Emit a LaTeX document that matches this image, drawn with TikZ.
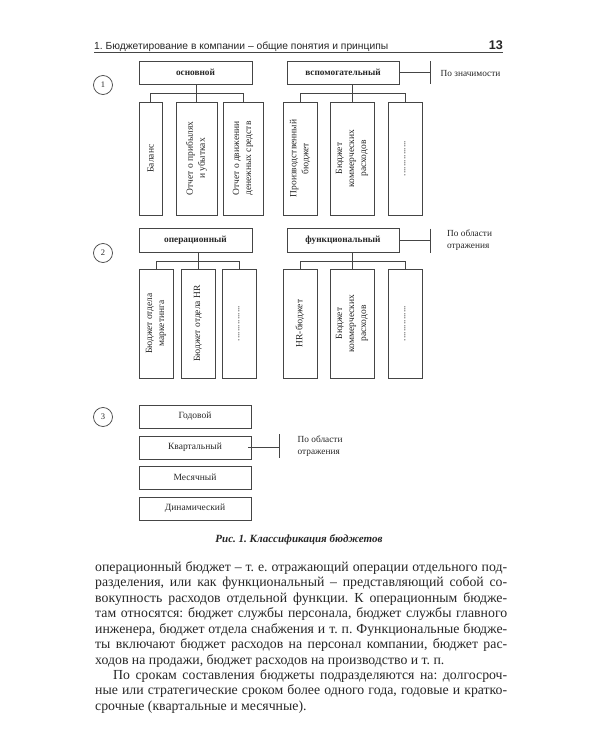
\documentclass[tikz,border=0pt]{standalone}
\usepackage{fontspec}
\usepackage{graphicx}
\setmainfont{Liberation Serif}
\newfontfamily\hdrfont{Liberation Sans}
\definecolor{ink}{HTML}{262626}
\definecolor{lnc}{HTML}{454545}
\newcommand\bodyline[2][412pt]{\hbox to #1{#2}}
\frenchspacing
\begin{document}
\begin{tikzpicture}[x=1pt,y=-1pt,
  every node/.style={text=ink, inner sep=0pt},
  cn/.style={draw=lnc, line width=0.75pt},
  hbox/.style={cn, minimum width=113pt, minimum height=23pt, font=\bfseries\fontsize{9.3}{11}\selectfont},
  cbox/.style n args={2}{cn, minimum width=#1, minimum height=#2},
  pbox/.style={cn, minimum width=112pt, minimum height=23pt, font=\fontsize{9.5}{11}\selectfont},
  vtxt/.style={rotate=90, align=center, font=\fontsize{9.5}{12}\selectfont},
  sidetxt/.style={anchor=west, align=left, font=\fontsize{9.3}{11.7}\selectfont},
  num/.style={cn, circle, minimum size=19pt, font=\fontsize{8.5}{10}\selectfont},
  body/.style={anchor=base west, font=\frenchspacing\fontsize{13.8}{15}\selectfont},
  rule/.style={draw=lnc, line width=0.6pt}
]
\useasboundingbox (0,0) rectangle (600,750);

% header
\node[anchor=base west, font=\hdrfont\fontsize{10}{12}\selectfont] (hdr) at (94,49.5)
  {\resizebox{294pt}{!}{1. Бюджетирование в компании – общие понятия и принципы}};
\node[anchor=base east, font=\hdrfont\bfseries\fontsize{12}{14}\selectfont] (pg) at (503,49.5)
  {\resizebox{14pt}{!}{13}};
\coordinate (ulA) at (94,52.5);
\coordinate (ulB) at (503,52.5);
\draw[rule] (ulA) -- (ulB);

% ---------- row 1
\node[num] (n1) at (103,85) {1};
\node[hbox] (osn) at (195.5,72.5) {основной};
\node[hbox, minimum width=112pt] (vsp) at (343,72.5) {вспомогательный};
\node[cbox={23pt}{113pt}] (a1) at (150.5,158.5) {};
\node[cbox={41pt}{113pt}] (a2) at (196.5,158.5) {};
\node[cbox={40pt}{113pt}] (a3) at (243,158.5) {};
\node[cbox={34pt}{113pt}] (b1) at (300,158.5) {};
\node[cbox={44pt}{113pt}] (b2) at (352,158.5) {};
\node[cbox={34pt}{113pt}] (b3) at (405,158.5) {};
\node[vtxt] (a1t) at (a1) {Баланс};
\node[vtxt] (a2t) at (a2) {Отчет о прибылях\\и убытках};
\node[vtxt] (a3t) at (a3) {Отчет о движении\\денежных средств};
\node[vtxt] (b1t) at (b1) {Производственный\\бюджет};
\node[vtxt] (b2t) at (b2) {Бюджет\\коммерческих\\расходов};
\node[vtxt] (b3t) at (b3) {...............};

\path (osn.south) ++(0,9) coordinate (j1);
\draw[cn] (a2.north) -- (a2.north |- osn.south);
\draw[cn] (a1.north) |- (a2.north |- j1) -| (a3.north);
\draw[cn] (b2.north) -- (b2.north |- vsp.south);
\draw[cn] (b1.north) |- (b2.north |- j1) -| (b3.north);

\coordinate (k1) at (430,72.5);
\draw[cn] (vsp.east) -- (k1);
\draw[cn] (k1) ++(0,-11.5) -- ++(0,23);
\node[sidetxt] (t1) at (440.5,73) {По значимости};

% ---------- row 2
\node[num] (n2) at (103,253) {2};
\node[hbox, minimum height=24pt] (op) at (195.5,240) {операционный};
\node[hbox, minimum width=112pt, minimum height=24pt] (fn) at (343,240) {функциональный};
\node[cbox={34pt}{109pt}] (c1) at (156,323.5) {};
\node[cbox={34pt}{109pt}] (c2) at (198,323.5) {};
\node[cbox={34pt}{109pt}] (c3) at (239,323.5) {};
\node[cbox={34pt}{109pt}] (d1) at (300,323.5) {};
\node[cbox={44pt}{109pt}] (d2) at (352,323.5) {};
\node[cbox={34pt}{109pt}] (d3) at (405,323.5) {};
\node[vtxt] (c1t) at (c1) {Бюджет отдела\\маркетинга};
\node[vtxt] (c2t) at (c2) {Бюджет отдела HR};
\node[vtxt] (c3t) at (c3) {...............};
\node[vtxt] (d1t) at (d1) {HR-бюджет};
\node[vtxt] (d2t) at (d2) {Бюджет\\коммерческих\\расходов};
\node[vtxt] (d3t) at (d3) {...............};

\path (op.south) ++(0,9) coordinate (j2);
\draw[cn] (c2.north) -- (c2.north |- op.south);
\draw[cn] (c1.north) |- (c2.north |- j2) -| (c3.north);
\draw[cn] (d2.north) -- (d2.north |- fn.south);
\draw[cn] (d1.north) |- (d2.north |- j2) -| (d3.north);

\coordinate (k2) at (430,240.5);
\draw[cn] (fn.east |- k2) -- (k2);
\draw[cn] (k2) ++(0,-12) -- ++(0,24);
\node[sidetxt] (t2) at (447,240) {По области\\отражения};

% ---------- row 3
\node[num] (n3) at (103,417) {3};
\node[pbox] (g1) at (195,416.5) {Годовой};
\node[pbox] (g2) at (195,447.5) {Квартальный};
\node[pbox] (g3) at (195,477.5) {Месячный};
\node[pbox] (g4) at (195,508.5) {Динамический};
\coordinate (k3) at (279,447.5);
\draw[cn] ([xshift=-3pt]g2.east) -- (k3);
\draw[cn] (k3) ++(0,-13.5) -- ++(0,24);
\node[sidetxt] (t3) at (297.5,446) {По области\\отражения};

% ---------- caption
\node[font=\bfseries\itshape\fontsize{11}{13}\selectfont] (cap) at (299,540) {Рис. 1. Классификация бюджетов};

% ---------- body text
\node[body] (l1) at (95,571.5) {\bodyline{операционный бюджет – т. е. отражающий операции отдельного под-}};
\node[body] (l2) at (95,586.9) {\bodyline{разделения, или как функциональный – представляющий собой со-}};
\node[body] (l3) at (95,602.4) {\bodyline{вокупность расходов отдельной функции. К операционным бюдже-}};
\node[body] (l4) at (95,617.8) {\bodyline{там относятся: бюджет службы персонала, бюджет службы главного}};
\node[body] (l5) at (95,633.2) {\bodyline{инженера, бюджет отдела снабжения и т. п. Функциональные бюдже-}};
\node[body] (l6) at (95,648.7) {\bodyline{ты включают бюджет расходов на персонал компании, бюджет рас-}};
\node[body] (l7) at (95,664.1) {ходов на продажи, бюджет расходов на производство и т. п.};
\node[body] (l8) at (113,679.5) {\bodyline[394pt]{По срокам составления бюджеты подразделяются на: долгосроч-}};
\node[body] (l9) at (95,694.9) {\bodyline{ные или стратегические сроком более одного года, годовые и кратко-}};
\node[body] (l10) at (95,710.4) {срочные (квартальные и месячные).};
\end{tikzpicture}
\end{document}
